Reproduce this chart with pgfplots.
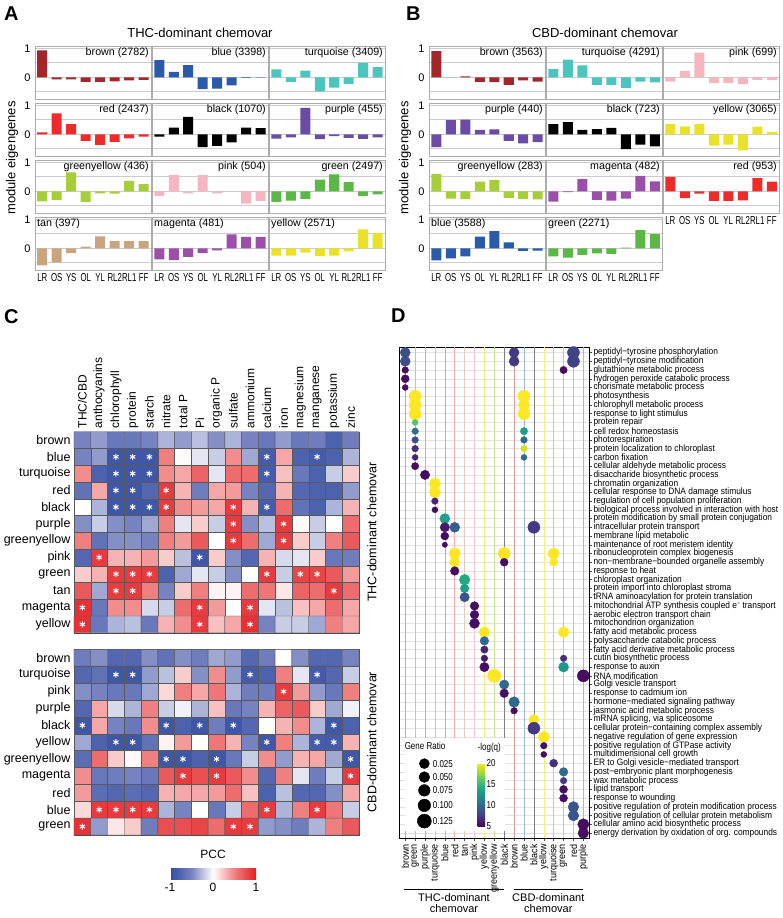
\documentclass[border=0pt]{standalone}
\usepackage{fontspec}
\setmainfont{Liberation Sans}
\newfontfamily\narrow[FakeStretch=0.8]{Liberation Sans}
\newfontfamily\narrowd[FakeStretch=0.9]{Liberation Sans}
\newfontfamily\narrowb[FakeStretch=0.68]{Liberation Sans}
\usepackage{pgfplots}
\pgfplotsset{compat=1.18}
\usetikzlibrary{calc}

\definecolor{mbrown}{HTML}{A3262A}
\definecolor{mblue}{HTML}{2A5AAA}
\definecolor{mturq}{HTML}{4CC5BF}
\definecolor{mred}{HTML}{EE2B2B}
\definecolor{mblack}{HTML}{000000}
\definecolor{mpurple}{HTML}{6A4CA6}
\definecolor{mgy}{HTML}{A6CE39}
\definecolor{mpink}{HTML}{F6B6C1}
\definecolor{mgreen}{HTML}{5BB846}
\definecolor{mtan}{HTML}{C9A47E}
\definecolor{mmag}{HTML}{9C4FA9}
\definecolor{myellow}{HTML}{E9E229}

\pgfplotsset{
  /pgf/number format/assume math mode=true,
  colormap={pcc}{rgb255(0cm)=(50,76,160) rgb255(1cm)=(118,131,192) rgb255(2cm)=(255,255,255) rgb255(3cm)=(240,128,128) rgb255(4cm)=(226,30,36)},
  bstyle/.style={anchor=north west, scale only axis, width=116pt, height=53pt,
    xmin=0.5, xmax=8.5, ymin=-0.75, ymax=1.08,
    ytick={-0.5,0,0.5,1}, yticklabels={}, xtick=\empty,
    ymajorgrids, grid style={draw=gray!40, line width=0.7pt},
    axis line style={draw=gray!65, line width=0.9pt},
    major tick length=0pt,
    ybar, bar width=10pt,
    yticklabel style={font=\fontsize{11}{12}\selectfont, xshift=-1pt}},
  lefty/.style={yticklabels={{},0,{},1}},
  botx/.style={xtick={1,...,8}, xticklabels={LR,OS,YS,OL,YL,RL2,RL1,FF},
    xticklabel style={font=\narrowb\fontsize{11.5}{12}\selectfont}},
  hm/.style={anchor=north west, scale only axis, width=285pt,
    xmin=-0.5, xmax=16.5, y dir=reverse, enlargelimits=false,
    major tick length=0pt, axis line style={draw=black!70},
    colormap name=pcc, point meta min=-1, point meta max=1,
    yticklabel style={font=\fontsize{12.5}{13}\selectfont}},
  hmcell/.style={matrix plot*, mesh/cols=17, point meta=explicit, shader=faceted, faceted color=black!65, line width=0.4pt},
  star/.style={only marks, mark=asterisk, mark size=3pt, white, line width=1pt},
  leg/.style={only marks, mark=*, black, nodes near coords align={anchor=west}, every node near coord/.append style={xshift=5pt, font=\narrow\fontsize{10}{11}\selectfont}},
  vline/.style={line width=0.5pt},
}

\newcommand{\bp}[8]{%
\begin{axis}[bstyle, at={(#1pt,-#2pt)}, #7]
\addplot[fill=#3, draw=none] coordinates {#8};
\node[#5, inner sep=2pt, font=\fontsize{10.7}{12}\selectfont] at (rel axis cs:#6) {#4};
\end{axis}}

\begin{document}
\begin{tikzpicture}
\path[use as bounding box] (0,0) rectangle (782pt,-918pt);

% ---------- panel letters and titles
\node[anchor=north west, inner sep=0, font=\bfseries\fontsize{20}{20}\selectfont] at (4pt,-7pt) {A};
\node[anchor=north west, inner sep=0, font=\bfseries\fontsize{20}{20}\selectfont] at (406pt,-7pt) {B};
\node[anchor=north west, inner sep=0, font=\bfseries\fontsize{20}{20}\selectfont] at (4pt,-309pt) {C};
\node[anchor=north west, inner sep=0, font=\bfseries\fontsize{20}{20}\selectfont] at (391pt,-309pt) {D};
\node[font=\fontsize{13}{14}\selectfont] at (200pt,-33pt) {THC-dominant chemovar};
\node[font=\fontsize{13}{14}\selectfont] at (605pt,-33pt) {CBD-dominant chemovar};
\node[rotate=90, font=\fontsize{13}{14}\selectfont] at (12pt,-158pt) {module eigengenes};
\node[rotate=90, font=\fontsize{13}{14}\selectfont] at (405pt,-158pt) {module eigengenes};

% ---------- panel A
\bp{35}{46}{mbrown}{brown (2782)}{anchor=north east}{1,1}{lefty}{(1,0.93)(2,-0.07)(3,-0.07)(4,-0.16)(5,-0.16)(6,-0.14)(7,-0.11)(8,-0.09)}
\bp{152}{46}{mblue}{blue (3398)}{anchor=north east}{1,1}{}{(1,0.59)(2,0.19)(3,0.42)(4,-0.41)(5,-0.39)(6,-0.28)(7,-0.02)(8,-0.01)}
\bp{269}{46}{mturq}{turquoise (3409)}{anchor=north east}{1,1}{}{(1,0.27)(2,-0.16)(3,0.23)(4,-0.49)(5,-0.36)(6,-0.24)(7,0.5)(8,0.35)}
\bp{35}{103}{mred}{red (2437)}{anchor=north east}{1,1}{lefty}{(1,0.07)(2,0.72)(3,0.35)(4,-0.23)(5,-0.37)(6,-0.26)(7,-0.14)(8,-0.08)}
\bp{152}{103}{mblack}{black (1070)}{anchor=north east}{1,1}{}{(1,-0.08)(2,0.23)(3,0.6)(4,-0.44)(5,-0.4)(6,-0.28)(7,0.23)(8,0.21)}
\bp{269}{103}{mpurple}{purple (455)}{anchor=north east}{1,1}{}{(1,-0.15)(2,-0.11)(3,0.91)(4,-0.17)(5,-0.06)(6,-0.12)(7,-0.16)(8,-0.11)}
\bp{35}{160}{mgy}{greenyellow (436)}{anchor=north east}{1,1}{lefty}{(1,-0.35)(2,-0.3)(3,0.65)(4,-0.37)(5,-0.07)(6,-0.08)(7,0.36)(8,0.25)}
\bp{152}{160}{mpink}{pink (504)}{anchor=north east}{1,1}{}{(1,-0.16)(2,0.57)(3,-0.07)(4,0.56)(5,-0.07)(6,0)(7,-0.43)(8,-0.33)}
\bp{269}{160}{mgreen}{green (2497)}{anchor=north east}{1,1}{}{(1,-0.37)(2,-0.32)(3,-0.26)(4,0.4)(5,0.58)(6,0.32)(7,-0.16)(8,-0.11)}
\bp{35}{217}{mtan}{tan (397)}{anchor=north west}{0,1}{lefty,botx}{(1,-0.59)(2,-0.49)(3,-0.17)(4,0.06)(5,0.41)(6,0.25)(7,0.25)(8,0.25)}
\bp{152}{217}{mmag}{magenta (481)}{anchor=north west}{0,1}{botx}{(1,-0.38)(2,-0.41)(3,-0.3)(4,-0.17)(5,-0.07)(6,0.48)(7,0.39)(8,0.39)}
\bp{269}{217}{myellow}{yellow (2571)}{anchor=north west}{0,1}{botx}{(1,-0.25)(2,-0.25)(3,-0.15)(4,-0.27)(5,-0.25)(6,-0.11)(7,0.65)(8,0.53)}

% ---------- panel B
\bp{429}{46}{mbrown}{brown (3563)}{anchor=north east}{1,1}{lefty}{(1,0.9)(2,0)(3,0.03)(4,-0.16)(5,-0.17)(6,-0.26)(7,-0.11)(8,-0.15)}
\bp{546}{46}{mturq}{turquoise (4291)}{anchor=north east}{1,1}{}{(1,0.28)(2,0.61)(3,0.41)(4,-0.26)(5,-0.27)(6,-0.37)(7,-0.15)(8,-0.18)}
\bp{663}{46}{mpink}{pink (699)}{anchor=north east}{1,1}{}{(1,-0.15)(2,0.22)(3,0.85)(4,-0.2)(5,-0.2)(6,-0.24)(7,-0.09)(8,-0.1)}
\bp{429}{103}{mpurple}{purple (440)}{anchor=north east}{1,1}{lefty}{(1,-0.44)(2,0.49)(3,0.51)(4,0.15)(5,0.17)(6,-0.23)(7,-0.31)(8,-0.27)}
\bp{546}{103}{mblack}{black (723)}{anchor=north east}{1,1}{}{(1,0.35)(2,0.42)(3,0.15)(4,0.18)(5,0.22)(6,-0.51)(7,-0.36)(8,-0.42)}
\bp{663}{103}{myellow}{yellow (3065)}{anchor=north east}{1,1}{}{(1,0.36)(2,0.27)(3,0.36)(4,-0.39)(5,-0.36)(6,-0.56)(7,0.26)(8,0.08)}
\bp{429}{160}{mgy}{greenyellow (283)}{anchor=north east}{1,1}{lefty}{(1,0.6)(2,-0.25)(3,-0.27)(4,0.33)(5,0.39)(6,-0.23)(7,-0.26)(8,-0.28)}
\bp{546}{160}{mmag}{magenta (482)}{anchor=north east}{1,1}{}{(1,-0.36)(2,-0.03)(3,0.42)(4,-0.3)(5,-0.32)(6,-0.25)(7,0.53)(8,0.34)}
\bp{663}{160}{mred}{red (953)}{anchor=north east}{1,1}{botx}{(1,0.5)(2,-0.24)(3,-0.08)(4,-0.33)(5,-0.33)(6,-0.31)(7,0.45)(8,0.33)}
\bp{429}{217}{mblue}{blue (3588)}{anchor=north west}{0,1}{lefty,botx}{(1,-0.42)(2,-0.35)(3,-0.28)(4,0.4)(5,0.59)(6,0.2)(7,-0.09)(8,-0.08)}
\bp{546}{217}{mgreen}{green (2271)}{anchor=north west}{0,1}{botx}{(1,-0.28)(2,-0.32)(3,-0.23)(4,-0.18)(5,-0.19)(6,0.02)(7,0.63)(8,0.49)}

% ---------- panel C top heatmap
\begin{axis}[hm, at={(74pt,-431.7pt)}, height=201pt, ymin=-0.5, ymax=11.5,
  xtick={0,...,16}, xticklabel pos=upper,
  xticklabels={THC/CBD,anthocyanins,chlorophyll,protein,starch,nitrate,total P,Pi,organic P,sulfate,ammonium,calcium,iron,magnesium,manganese,potassium,zinc},
  xticklabel style={rotate=90, anchor=west, font=\fontsize{12}{13}\selectfont},
  ytick={0,...,11},
  yticklabels={brown,blue,turquoise,red,black,purple,greenyellow,pink,green,tan,magenta,yellow}]
\addplot[hmcell] coordinates {
(0,0) [-0.5] (1,0) [-0.4] (2,0) [-0.6] (3,0) [-0.6] (4,0) [-0.5] (5,0) [-0.3] (6,0) [-0.4] (7,0) [-0.25] (8,0) [-0.45] (9,0) [-0.3] (10,0) [-0.5] (11,0) [-0.6] (12,0) [-0.4] (13,0) [-0.6] (14,0) [-0.55] (15,0) [-0.8] (16,0) [-0.55]
(0,1) [-0.5] (1,1) [-0.4] (2,1) [-0.9] (3,1) [-0.9] (4,1) [-0.9] (5,1) [0.5] (6,1) [0.02] (7,1) [-0.1] (8,1) [-0.2] (9,1) [0.45] (10,1) [-0.35] (11,1) [-0.85] (12,1) [0.35] (13,1) [-0.8] (14,1) [-0.85] (15,1) [-0.8] (16,1) [-0.3]
(0,2) [0.45] (1,2) [-0.8] (2,2) [-0.9] (3,2) [-0.9] (4,2) [-0.9] (5,2) [0.45] (6,2) [0.35] (7,2) [0.65] (8,2) [-0.1] (9,2) [0.6] (10,2) [0.6] (11,2) [-0.85] (12,2) [0.25] (13,2) [-0.6] (14,2) [-0.8] (15,2) [-0.2] (16,2) [0.2]
(0,3) [-0.65] (1,3) [0.35] (2,3) [-0.9] (3,3) [-0.9] (4,3) [-0.75] (5,3) [0.85] (6,3) [0.3] (7,3) [-0.55] (8,3) [0.35] (9,3) [0.4] (10,3) [-0.5] (11,3) [-0.75] (12,3) [0.3] (13,3) [-0.75] (14,3) [-0.8] (15,3) [-0.8] (16,3) [-0.4]
(0,4) [0.0] (1,4) [-0.3] (2,4) [-0.9] (3,4) [-0.9] (4,4) [-0.9] (5,4) [0.85] (6,4) [0.45] (7,4) [0.4] (8,4) [0.35] (9,4) [0.85] (10,4) [0.3] (11,4) [-0.85] (12,4) [0.6] (13,4) [-0.65] (14,4) [-0.8] (15,4) [-0.3] (16,4) [0.3]
(0,5) [-0.45] (1,5) [-0.2] (2,5) [-0.45] (3,5) [-0.5] (4,5) [-0.35] (5,5) [0.5] (6,5) [-0.1] (7,5) [0.2] (8,5) [-0.2] (9,5) [0.85] (10,5) [-0.45] (11,5) [-0.25] (12,5) [0.85] (13,5) [0.02] (14,5) [-0.2] (15,5) [0.0] (16,5) [0.6]
(0,6) [0.5] (1,6) [-0.65] (2,6) [-0.45] (3,6) [-0.45] (4,6) [-0.5] (5,6) [0.5] (6,6) [0.4] (7,6) [0.7] (8,6) [0.0] (9,6) [0.85] (10,6) [0.6] (11,6) [-0.35] (12,6) [0.85] (13,6) [0.2] (14,6) [-0.2] (15,6) [0.5] (16,6) [0.7]
(0,7) [-0.75] (1,7) [0.85] (2,7) [0.3] (3,7) [0.3] (4,7) [0.4] (5,7) [0.2] (6,7) [-0.25] (7,7) [-0.9] (8,7) [0.2] (9,7) [-0.45] (10,7) [-0.75] (11,7) [0.3] (12,7) [-0.15] (13,7) [-0.1] (14,7) [0.2] (15,7) [-0.6] (16,7) [-0.55]
(0,8) [0.2] (1,8) [0.3] (2,8) [0.85] (3,8) [0.85] (4,8) [0.85] (5,8) [-0.8] (6,8) [-0.35] (7,8) [-0.1] (8,8) [-0.2] (9,8) [-0.45] (10,8) [0.0] (11,8) [0.85] (12,8) [-0.2] (13,8) [0.8] (14,8) [0.8] (15,8) [0.7] (16,8) [0.4]
(0,9) [0.7] (1,9) [-0.35] (2,9) [0.85] (3,9) [0.85] (4,9) [0.5] (5,9) [-0.5] (6,9) [0.2] (7,9) [0.5] (8,9) [0.05] (9,9) [0.05] (10,9) [0.6] (11,9) [0.55] (12,9) [0.1] (13,9) [0.65] (14,9) [0.6] (15,9) [0.85] (16,9) [0.6]
(0,10) [0.9] (1,10) [-0.6] (2,10) [0.45] (3,10) [0.45] (4,10) [-0.15] (5,10) [-0.2] (6,10) [0.6] (7,10) [0.85] (8,10) [0.4] (9,10) [0.0] (10,10) [0.85] (11,10) [-0.1] (12,10) [-0.25] (13,10) [0.25] (14,10) [0.35] (15,10) [0.6] (16,10) [0.35]
(0,11) [0.9] (1,11) [-0.6] (2,11) [-0.3] (3,11) [-0.25] (4,11) [-0.6] (5,11) [0.3] (6,11) [0.45] (7,11) [0.85] (8,11) [0.25] (9,11) [0.35] (10,11) [0.9] (11,11) [-0.5] (12,11) [-0.2] (13,11) [-0.2] (14,11) [-0.35] (15,11) [0.5] (16,11) [0.35]
};
\addplot[star] coordinates {(2,1)(3,1)(4,1)(11,1)(14,1) (2,2)(3,2)(4,2)(11,2) (2,3)(3,3)(5,3) (2,4)(3,4)(4,4)(5,4)(9,4)(11,4) (9,5)(12,5) (9,6)(12,6) (1,7)(7,7) (2,8)(3,8)(4,8)(11,8)(13,8)(14,8) (2,9)(3,9)(15,9) (0,10)(7,10)(10,10) (0,11)(7,11)(10,11)};
\end{axis}

% ---------- panel C bottom heatmap
\begin{axis}[hm, at={(74pt,-649.3pt)}, height=185.7pt, ymin=-0.5, ymax=10.5,
  xtick=\empty, ytick={0,...,10},
  yticklabels={brown,turquoise,pink,purple,black,yellow,greenyellow,magenta,red,blue,green},
  colorbar horizontal,
  colorbar style={at={($(parent axis.south west)+(96pt,-25pt)$)}, anchor=north west,
    scale only axis, width=86pt, height=11pt, xtick={-1,0,1},
    xticklabel style={font=\fontsize{12}{13}\selectfont},
    title={PCC}, title style={font=\fontsize{12}{13}\selectfont},
    major tick length=0pt, axis line style={draw=none}}]
\addplot[hmcell] coordinates {
(0,0) [-0.55] (1,0) [-0.45] (2,0) [-0.75] (3,0) [-0.75] (4,0) [-0.45] (5,0) [-0.65] (6,0) [-0.45] (7,0) [-0.55] (8,0) [-0.35] (9,0) [-0.4] (10,0) [-0.75] (11,0) [-0.55] (12,0) [0.0] (13,0) [-0.45] (14,0) [-0.75] (15,0) [-0.75] (16,0) [-0.5]
(0,1) [-0.75] (1,1) [-0.65] (2,1) [-0.9] (3,1) [-0.9] (4,1) [-0.4] (5,1) [-0.25] (6,1) [0.2] (7,1) [-0.45] (8,1) [0.45] (9,1) [-0.4] (10,1) [-0.85] (11,1) [-0.8] (12,1) [0.5] (13,1) [-0.1] (14,1) [-0.85] (15,1) [-0.75] (16,1) [-0.2]
(0,2) [-0.45] (1,2) [-0.5] (2,2) [-0.6] (3,2) [-0.6] (4,2) [-0.35] (5,2) [0.15] (6,2) [0.5] (7,2) [0.35] (8,2) [0.55] (9,2) [-0.3] (10,2) [-0.55] (11,2) [-0.55] (12,2) [0.85] (13,2) [0.4] (14,2) [-0.4] (15,2) [-0.6] (16,2) [0.5]
(0,3) [-0.75] (1,3) [0.35] (2,3) [-0.15] (3,3) [-0.3] (4,3) [0.5] (5,3) [-0.2] (6,3) [-0.05] (7,3) [-0.3] (8,3) [0.25] (9,3) [-0.6] (10,3) [-0.5] (11,3) [0.3] (12,3) [0.65] (13,3) [0.7] (14,3) [0.2] (15,3) [-0.35] (16,3) [-0.05]
(0,4) [-0.9] (1,4) [0.35] (2,4) [-0.5] (3,4) [-0.6] (4,4) [0.45] (5,4) [-0.9] (6,4) [-0.8] (7,4) [-0.9] (8,4) [-0.55] (9,4) [-0.9] (10,4) [-0.75] (11,4) [0.0] (12,4) [0.3] (13,4) [0.45] (14,4) [-0.3] (15,4) [-0.9] (16,4) [-0.8]
(0,5) [-0.35] (1,5) [-0.8] (2,5) [-0.9] (3,5) [-0.9] (4,5) [-0.65] (5,5) [0.05] (6,5) [0.4] (7,5) [0.0] (8,5) [0.55] (9,5) [0.3] (10,5) [-0.5] (11,5) [-0.9] (12,5) [0.5] (13,5) [-0.3] (14,5) [-0.85] (15,5) [-0.85] (16,5) [0.3]
(0,6) [-0.7] (1,6) [0.6] (2,6) [0.2] (3,6) [0.02] (4,6) [0.5] (5,6) [-0.9] (6,6) [-0.9] (7,6) [-0.8] (8,6) [-0.9] (9,6) [-0.6] (10,6) [-0.2] (11,6) [0.45] (12,6) [-0.4] (13,6) [0.3] (14,6) [0.35] (15,6) [-0.35] (16,6) [-0.9]
(0,7) [0.45] (1,7) [-0.6] (2,7) [-0.55] (3,7) [-0.5] (4,7) [-0.6] (5,7) [0.7] (6,7) [0.85] (7,7) [0.75] (8,7) [0.85] (9,7) [0.7] (10,7) [0.45] (11,7) [-0.75] (12,7) [0.5] (13,7) [-0.1] (14,7) [-0.55] (15,7) [-0.2] (16,7) [0.85]
(0,8) [0.4] (1,8) [-0.7] (2,8) [-0.75] (3,8) [-0.7] (4,8) [-0.75] (5,8) [0.3] (6,8) [0.35] (7,8) [0.35] (8,8) [0.4] (9,8) [0.6] (10,8) [0.25] (11,8) [-0.8] (12,8) [-0.25] (13,8) [-0.75] (14,8) [-0.75] (15,8) [-0.45] (16,8) [0.35]
(0,9) [0.15] (1,9) [0.85] (2,9) [0.85] (3,9) [0.85] (4,9) [0.85] (5,9) [-0.3] (6,9) [-0.5] (7,9) [0.0] (8,9) [-0.6] (9,9) [-0.2] (10,9) [0.6] (11,9) [0.85] (12,9) [-0.3] (13,9) [0.5] (14,9) [0.85] (15,9) [0.55] (16,9) [-0.2]
(0,10) [0.9] (1,10) [-0.4] (2,10) [0.1] (3,10) [0.2] (4,10) [-0.55] (5,10) [0.75] (6,10) [0.75] (7,10) [0.8] (8,10) [0.6] (9,10) [0.85] (10,10) [0.85] (11,10) [-0.4] (12,10) [-0.45] (13,10) [-0.55] (14,10) [-0.3] (15,10) [0.5] (16,10) [0.7]
};
\addplot[star] coordinates {(2,1)(3,1)(10,1)(14,1) (12,2) (0,4)(5,4)(7,4)(9,4)(15,4) (2,5)(3,5)(11,5)(14,5)(15,5) (5,6)(6,6)(8,6)(16,6) (6,7)(8,7)(16,7) (1,9)(2,9)(3,9)(4,9)(11,9)(14,9) (0,10)(9,10)(10,10)};
\end{axis}
\node[rotate=90, font=\fontsize{12.5}{14}\selectfont] at (372pt,-532pt) {THC-dominant chemovar};
\node[rotate=90, font=\fontsize{12.5}{14}\selectfont] at (372pt,-742pt) {CBD-dominant chemovar};

% ---------- panel D
\begin{axis}[at={(399.3pt,-347.3pt)}, anchor=north west, scale only axis, width=190pt, height=491pt,
  xmin=0.4, xmax=19.6, ymin=0.4, ymax=56.6, y dir=reverse,
  xtick={1,...,19}, xtick pos=bottom,
  xticklabels={brown,green,purple,turquoise,blue,red,tan,pink,yellow,greenyellow,black,brown,blue,black,yellow,turquoise,green,red,purple},
  xticklabel style={rotate=90, anchor=east, font=\narrowd\fontsize{10}{11}\selectfont},
  ytick={1,...,56}, ytick pos=right, yticklabel pos=right,
  yticklabel style={anchor=west, font=\narrowd\fontsize{9.3}{9.5}\selectfont, inner xsep=1.5pt, inner ysep=0pt},
  yticklabels={peptidyl−tyrosine phosphorylation,peptidyl−tyrosine modification,glutathione metabolic process,hydrogen peroxide catabolic process,chorismate metabolic process,photosynthesis,chlorophyll metabolic process,response to light stimulus,protein repair,cell redox homeostasis,photorespiration,protein localization to chloroplast,carbon fixation,cellular aldehyde metabolic process,disaccharide biosynthetic process,chromatin organization,cellular response to DNA damage stimulus,regulation of cell population proliferation,biological process involved in interaction with host,protein modification by small protein conjugation,intracellular protein transport,membrane lipid metabolic,maintenance of root meristem identity,ribonucleoprotein complex biogenesis,non−membrane−bounded organelle assembly,response to heat,chloroplast organization,protein import into chloroplast stroma,tRNA aminoacylation for protein translation,mitochondrial ATP synthesis coupled e{\fontsize{6}{6}\selectfont\raisebox{2.4pt}{−}} transport,aerobic electron transport chain,mitochondrion organization,fatty acid metabolic process,polysaccharide catabolic process,fatty acid derivative metabolic process,cutin biosynthetic process,response to auxin,RNA modification,Golgi vesicle transport,response to cadmium ion,hormone−mediated signaling pathway,jasmonic acid metabolic process,{mRNA splicing, via spliceosome},cellular protein−containing complex assembly,negative regulation of gene expression,positive regulation of GTPase activity,multidimensional cell growth,ER to Golgi vesicle−mediated transport,post−embryonic plant morphogenesis,wax metabolic process,lipid transport,response to wounding,positive regulation of protein modification process,positive regulation of cellular protein metabolism,cellular amino acid biosynthetic process,energy derivation by oxidation of org. compounds},
  tick align=outside, major tick length=2.5pt, tick style={black!70, line width=0.5pt},
  ymajorgrids, grid style={draw=gray!22, line width=0.5pt},
  axis line style={black, line width=0.8pt},
  colormap/viridis, point meta min=5, point meta max=20,
  colorbar,
  colorbar style={at={($(parent axis.south west)+(69.7pt,75pt)$)}, anchor=north west,
    scale only axis, width=7.5pt, height=63pt, ytick={5,10,15,20},
    yticklabel style={font=\narrow\fontsize{10}{11}\selectfont, xshift=-2pt},
    title={-log(q)}, title style={font=\narrow\fontsize{10}{11}\selectfont, yshift=1pt, xshift=8pt},
    major tick length=0pt, axis line style={draw=none}}]
\addplot[vline, mbrown!45] coordinates {(1,0.4)(1,56.6)};
\addplot[vline, mgreen!55] coordinates {(2,0.4)(2,56.6)};
\addplot[vline, mpurple!45] coordinates {(3,0.4)(3,56.6)};
\addplot[vline, mturq!60] coordinates {(4,0.4)(4,56.6)};
\addplot[vline, mblue!45] coordinates {(5,0.4)(5,56.6)};
\addplot[vline, mred!40] coordinates {(6,0.4)(6,56.6)};
\addplot[vline, mtan!55] coordinates {(7,0.4)(7,56.6)};
\addplot[vline, mpink!80] coordinates {(8,0.4)(8,56.6)};
\addplot[vline, myellow!60] coordinates {(9,0.4)(9,56.6)};
\addplot[vline, mgy!60] coordinates {(10,0.4)(10,56.6)};
\addplot[vline, black!50] coordinates {(11,0.4)(11,56.6)};
\addplot[vline, mbrown!45] coordinates {(12,0.4)(12,56.6)};
\addplot[vline, mblue!45] coordinates {(13,0.4)(13,56.6)};
\addplot[vline, black!50] coordinates {(14,0.4)(14,56.6)};
\addplot[vline, myellow!60] coordinates {(15,0.4)(15,56.6)};
\addplot[vline, mturq!60] coordinates {(16,0.4)(16,56.6)};
\addplot[vline, mgreen!55] coordinates {(17,0.4)(17,56.6)};
\addplot[vline, mred!40] coordinates {(18,0.4)(18,56.6)};
\addplot[vline, mpurple!45] coordinates {(19,0.4)(19,56.6)};
% legend background
\addplot[fill=white, draw=none] coordinates {(0.98,45.15) (11.1,45.15) (11.1,55.8) (0.98,55.8)} -- cycle;
\addplot[scatter, only marks, mark=*, scatter src=explicit,
  scatter/use mapped color={draw=mapped color, fill=mapped color},
  visualization depends on={\thisrow{r} \as \rr},
  scatter/@pre marker code/.append style={/tikz/mark size={2.2+36*\rr}}]
  table[x=x, y=y, meta=q] {
x y q r
1 1 8.5 0.078
1 2 8.5 0.078
1 3 5.5 0.031
1 4 5.5 0.050
1 5 5.5 0.022
2 6 20 0.106
2 7 20 0.106
2 8 20 0.106
2 9 16 0.022
2 10 10.5 0.031
2 11 8.5 0.031
2 12 7 0.031
2 13 6.5 0.022
2 14 5.5 0.041
3 15 5.5 0.069
4 16 20 0.096
4 17 20 0.096
4 18 6.5 0.031
4 19 5.5 0.022
5 20 13.5 0.078
5 21 6 0.069
5 22 5.5 0.050
5 23 5.5 0.013
6 21 9.5 0.078
6 24 20 0.096
6 25 20 0.078
6 26 5.5 0.059
7 27 14 0.087
7 28 13.5 0.059
7 29 9 0.069
8 30 5.5 0.059
8 31 5.5 0.059
8 32 5.5 0.078
9 33 20 0.087
9 34 10 0.059
9 35 6.5 0.041
9 36 6 0.031
9 37 5.5 0.069
10 38 20 0.124
11 24 20 0.106
11 25 5.5 0.050
11 39 10 0.069
11 40 5.5 0.059
12 1 7.5 0.078
12 2 7.5 0.078
12 41 10 0.087
12 42 5.5 0.031
13 6 20 0.106
13 7 20 0.096
13 8 20 0.106
13 10 13.5 0.041
13 11 10 0.031
13 12 19 0.031
13 13 10 0.022
14 21 7.5 0.106
14 43 20 0.078
14 44 7.5 0.106
15 45 20 0.096
15 46 5.5 0.031
15 47 5.5 0.022
16 24 20 0.096
16 25 20 0.050
16 48 7 0.050
17 3 5.5 0.041
17 33 20 0.087
17 36 7 0.031
17 37 13 0.078
17 49 10 0.059
17 50 7.5 0.031
17 51 5.5 0.050
17 52 5.5 0.050
18 1 8 0.106
18 2 8 0.106
18 53 9 0.087
18 54 9 0.087
19 38 5.5 0.106
19 55 5.5 0.096
19 56 5.5 0.087
};
% size legend
\addplot[leg, mark size=5pt, nodes near coords={0.025}] coordinates {(2.93,48.05)};
\addplot[leg, mark size=5.4pt, nodes near coords={0.050}] coordinates {(2.93,49.59)};
\addplot[leg, mark size=5.8pt, nodes near coords={0.075}] coordinates {(2.93,51.11)};
\addplot[leg, mark size=6.3pt, nodes near coords={0.100}] coordinates {(2.93,52.83)};
\addplot[leg, mark size=7pt, nodes near coords={0.125}] coordinates {(2.93,54.63)};
\end{axis}
\node[font=\narrow\fontsize{10}{11}\selectfont] at (425pt,-745.7pt) {Gene Ratio};
\draw[line width=0.8pt] (404pt,-889.3pt) -- (504.3pt,-889.3pt);
\draw[line width=0.8pt] (514pt,-889.3pt) -- (583.3pt,-889.3pt);
\node[align=center, anchor=north, font=\fontsize{11}{11}\selectfont, inner sep=0] at (454pt,-893pt) {THC-dominant\\chemovar};
\node[align=center, anchor=north, font=\fontsize{11}{11}\selectfont, inner sep=0] at (548.3pt,-893pt) {CBD-dominant\\chemovar};
\end{tikzpicture}
\end{document}
